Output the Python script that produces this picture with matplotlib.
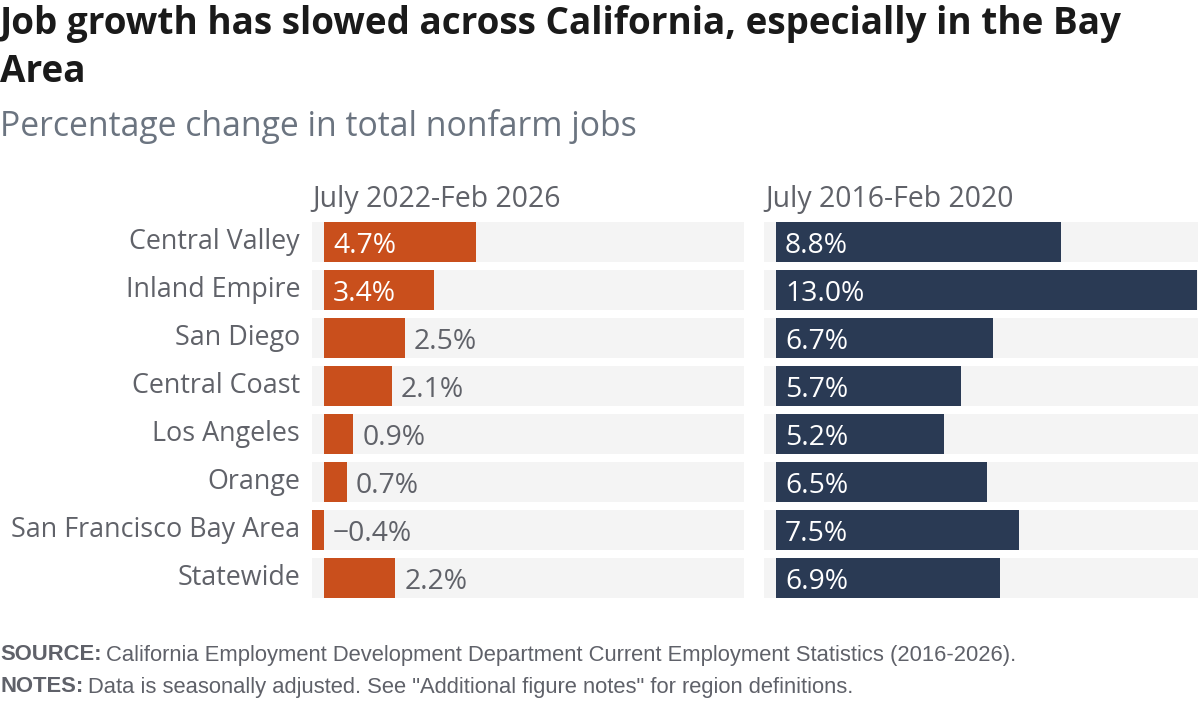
import matplotlib
matplotlib.use("Agg")
import matplotlib.pyplot as plt

MAIN = ['Open Sans', 'DejaVu Sans']
FOOTF = ['Liberation Sans', 'DejaVu Sans']
plt.rcParams['font.family'] = MAIN

categories = ["Central Valley", "Inland Empire", "San Diego", "Central Coast",
              "Los Angeles", "Orange", "San Francisco Bay Area", "Statewide"]
recent = [4.7, 3.4, 2.5, 2.1, 0.9, 0.7, -0.4, 2.2]
prior = [8.8, 13.0, 6.7, 5.7, 5.2, 6.5, 7.5, 6.9]
panel_titles = ["July 2022-Feb 2026", "July 2016-Feb 2020"]
title_lines = ["Job growth has slowed across California, especially in the Bay", "Area"]
subtitle = "Percentage change in total nonfarm jobs"
source_text = "California Employment Development Department Current Employment Statistics (2016-2026)."
notes_text = "Data is seasonally adjusted. See \"Additional figure notes\" for region definitions."

W, H = 1200, 702
fig = plt.figure(figsize=(W / 100, H / 100), dpi=100)
fig.patch.set_facecolor("white")
fig.canvas.draw()
R = fig.canvas.get_renderer()

def width_px(s, size, family, weight="normal"):
    t = fig.text(0, 0, s, fontsize=size, family=family, fontweight=weight)
    w = t.get_window_extent(R).width
    t.remove()
    return w

def fit(s, target, family, weight="normal"):
    return 20 * target / width_px(s, 20, family, weight)

ORANGE = "#c94f1c"
NAVY = "#2a3a54"
BG = "#f4f4f4"
GRAY = "#606269"

def px_axes(x0, x1, y0, y1):
    return fig.add_axes([x0 / W, 1 - y1 / H, (x1 - x0) / W, (y1 - y0) / H])

ax_l = px_axes(312, 744, 218, 602)
ax_r = px_axes(764, 1198, 218, 602)

fs_val = fit("4.7%", 63, MAIN)
fs_cat = fit("San Francisco Bay Area", 288, MAIN)
fs_panel = fit(panel_titles[0], 250, MAIN)
fs_title = fit(title_lines[0], 1122, MAIN, "bold")
fs_sub = fit(subtitle, 637, MAIN)

xmin = -0.37
ppu = 32.4
panels = [(ax_l, recent, ORANGE, 312, 744), (ax_r, prior, NAVY, 764, 1198)]
n = len(categories)
ys = list(range(n))
for ax, vals, color, x0, x1 in panels:
    xmax = xmin + (x1 - x0) / ppu
    ax.set_xlim(xmin, xmax)
    ax.set_ylim(n - 0.5, -0.5)
    ax.barh(ys, [xmax - xmin] * n, left=xmin, height=40 / 48, color=BG, zorder=1)
    ax.barh(ys, vals, height=40 / 48, color=color, zorder=2)
    off = 9 / ppu
    for y, v in zip(ys, vals):
        if v > 3:
            ax.text(off, y + 0.08, f"{v:.1f}%", color="white", fontsize=fs_val,
                    va="center", ha="left", zorder=3)
        else:
            s = f"{v:.1f}%".replace("-", "\u2212")
            ax.text(max(v, 0) + off, y + 0.08, s, color=GRAY, fontsize=fs_val,
                    va="center", ha="left", zorder=3)
    ax.axis("off")

for y, c in zip(ys, categories):
    ax_l.text(-12 / ppu + xmin, y + 0.01, c, ha="right", va="center",
              fontsize=fs_cat, color=GRAY)

fig.text(312 / W, 1 - 199 / H, panel_titles[0], fontsize=fs_panel, color=GRAY,
         ha="left", va="center")
fig.text(765 / W, 1 - 199 / H, panel_titles[1], fontsize=fs_panel, color=GRAY,
         ha="left", va="center")

fig.text(0, 1 - 24 / H, title_lines[0], fontsize=fs_title, fontweight="bold",
         color="#1a1a1a", ha="left", va="center")
fig.text(0, 1 - 72 / H, title_lines[1], fontsize=fs_title, fontweight="bold",
         color="#1a1a1a", ha="left", va="center")
fig.text(0, 1 - 127 / H, subtitle, fontsize=fs_sub, color="#6b7480",
         ha="left", va="center")

FOOT = "#5f6169"
fs_foot = fit("SOURCE: " + source_text, 1018, FOOTF)
for lab, s, y in [("SOURCE:", source_text, 655), ("NOTES:", notes_text, 687)]:
    t = fig.text(0, 1 - y / H, lab, fontsize=fs_foot, fontweight="bold", color=FOOT,
                 family=FOOTF, ha="left", va="center")
    bb = t.get_window_extent(R)
    fig.text((bb.x1 + 5) / W, 1 - y / H, s, fontsize=fs_foot, color=FOOT,
             family=FOOTF, ha="left", va="center")

fig.savefig("out.png", dpi=100)
